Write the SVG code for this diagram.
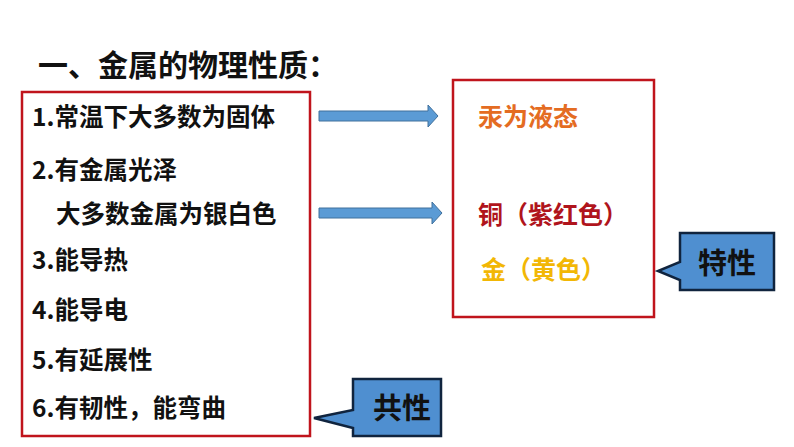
<svg xmlns="http://www.w3.org/2000/svg" width="794" height="447" viewBox="0 0 794 447">
<style>
text{font-family:"Noto Sans CJK SC","Liberation Sans",sans-serif;font-weight:bold}
.t{font-size:24.5px;fill:#111}
.box{fill:#fff;stroke:#c0141c;stroke-width:2.5}
.arr{fill:#5b9bd5;stroke:#41719c;stroke-width:1}
.call{fill:#4f8fd0;stroke:#10243e;stroke-width:2.5}
</style>
<rect width="794" height="447" fill="#fff"/>
<text x="38" y="76" font-size="30" fill="#111">一、金属的物理性质：</text>
<g id="left">
<rect class="box" x="22" y="92" width="288" height="344"/>
<text class="t" x="32" y="126">1.常温下大多数为固体</text>
<text class="t" x="32" y="179">2.有金属光泽</text>
<text class="t" x="56" y="223">大多数金属为银白色</text>
<text class="t" x="32" y="269">3.能导热</text>
<text class="t" x="32" y="319">4.能导电</text>
<text class="t" x="32" y="369">5.有延展性</text>
<text class="t" x="32" y="417">6.有韧性，能弯曲</text>
</g>
<g id="right">
<rect class="box" x="453" y="80" width="201" height="237"/>
<text x="478" y="126" font-size="25" fill="#e46c22">汞为液态</text>
<text x="478" y="224" font-size="25" fill="#b0141c">铜（紫红色）</text>
<text x="481" y="279" font-size="25" fill="#f2b705">金（黄色）</text>
</g>
<g id="connectors">
<path class="arr" d="M319 111H428V105L438 116L428 127V121H319Z"/>
<path class="arr" d="M319 208H432V202L442 213L432 224V218H319Z"/>
</g>
<g id="tex">
<path class="call" d="M680 233H774V290H680V280L658 271L680 262Z"/>
<text x="727" y="274" font-size="29" fill="#111" text-anchor="middle">特性</text>
</g>
<g id="common">
<path class="call" d="M353 379H441V436H353V428L314 418L353 410Z"/>
<text x="402" y="419" font-size="29" fill="#111" text-anchor="middle">共性</text>
</g>
</svg>
